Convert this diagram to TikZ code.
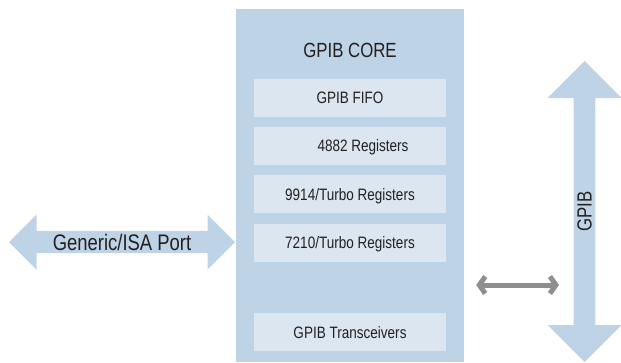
\documentclass[tikz,border=0pt]{standalone}
\usepackage{fontspec}
\setmainfont{Liberation Sans}[FakeStretch=0.82]
\usetikzlibrary{arrows.meta,positioning,shapes.arrows,calc}

\definecolor{coreblue}{HTML}{BED3E6}
\definecolor{cellblue}{HTML}{DCE6F1}
\definecolor{inkgrey}{HTML}{231F20}
\definecolor{linkgrey}{HTML}{8E8E8E}

\begin{document}
\begin{tikzpicture}[
  x=1pt, y=-1pt,
  text=inkgrey,
  core/.style={fill=coreblue, minimum width=228pt, minimum height=353pt, inner sep=0pt},
  title/.style={font=\fontsize{20.5}{22}\selectfont, inner sep=0pt, text height=14.6pt, text depth=0pt},
  cell/.style={fill=cellblue, minimum width=192pt, minimum height=38pt, inner sep=0pt,
    font=\fontsize{16.5}{18}\selectfont, text height=11.8pt, text depth=0pt},
  blockarrow/.style={double arrow, fill=coreblue, inner sep=0pt, double arrow tip angle=90},
  link/.style={{Straight Barb[length=6pt,width=17pt]}-{Straight Barb[length=6pt,width=17pt]},
    line width=5pt, draw=linkgrey}
]
\useasboundingbox (0,0) rectangle (621,362);

% Core block
\node[core] (core) at (350,185.5) {};
\node[title, below=33.5pt of core.north] (title) {GPIB CORE};

% Register cells
\node[cell, below=21pt of title] (fifo) {GPIB FIFO};
\node[cell, below=10pt of fifo] (regs) {\hspace*{26pt}4882 Registers};
\node[cell, below=10pt of regs] (turbo) {9914/Turbo Registers};
\node[cell, below=10pt of turbo] (nec) {7210/Turbo Registers};
\node[cell, below=51pt of nec] (xcvr) {GPIB Transceivers};

% Ports
\node[blockarrow, minimum height=226pt, minimum width=55pt, double arrow head extend=12.5pt,
  font=\fontsize{22.5}{24}\selectfont] (port) at (122,242) {Generic/ISA Port};
\node[blockarrow, rotate=90, minimum height=301pt, minimum width=74pt, double arrow head extend=18pt,
  font=\fontsize{20.5}{22}\selectfont] (bus) at (584.5,211.5) {GPIB};

% Transceiver link
\coordinate (lk) at (0,285);
\draw[link] ($(core.east |- lk)+(12,0)$) -- ($(bus.center |- lk)+(-25.5,0)$);

\end{tikzpicture}
\end{document}
